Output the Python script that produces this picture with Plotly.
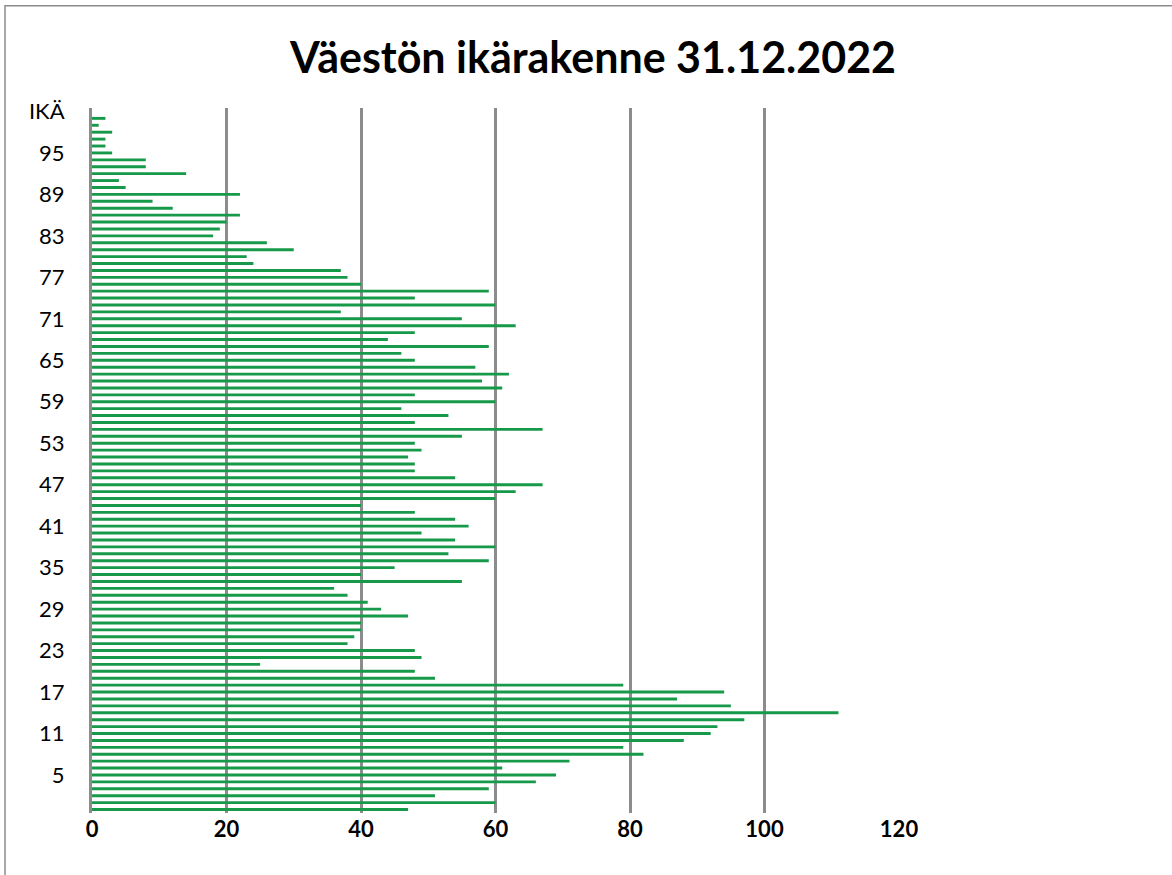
import plotly.graph_objects as go

# Ages from top (100) to bottom (0); "IKÄ" is the header category with no value
ages = [str(a) for a in range(100, -1, -1)]
categories = ["IKÄ"] + ages

population = [
    2, 1, 3, 2, 2, 3, 8, 8, 14, 4,          # 100..91
    5, 22, 9, 12, 22, 20, 19, 18, 26, 30,   # 90..81
    23, 24, 37, 38, 40, 59, 48, 60, 37, 55, # 80..71
    63, 48, 44, 59, 46, 48, 57, 62, 58, 61, # 70..61
    48, 60, 46, 53, 48, 67, 55, 48, 49, 47, # 60..51
    48, 48, 54, 67, 63, 60, 40, 48, 54, 56, # 50..41
    49, 54, 60, 53, 59, 45, 40, 55, 36, 38, # 40..31
    41, 43, 47, 40, 40, 39, 38, 48, 49, 25, # 30..21
    48, 51, 79, 94, 87, 95, 111, 97, 93, 92,# 20..11
    88, 79, 82, 71, 61, 69, 66, 59, 51, 60, # 10..1
    47,                                     # 0
]
values = [None] + population

y_tick_labels = ["IKÄ", "95", "89", "83", "77", "71", "65", "59", "53",
                 "47", "41", "35", "29", "23", "17", "11", "5"]
x_ticks = [0, 20, 40, 60, 80, 100, 120]

fig = go.Figure()
fig.add_trace(go.Bar(
    x=values, y=categories, orientation="h",
    marker=dict(color="#17994A", line=dict(width=0)),
    width=0.42,
    hoverinfo="x+y",
))

fig.update_layout(
    width=1172, height=875,
    margin=dict(l=92, r=273, t=108, b=62),
    paper_bgcolor="white", plot_bgcolor="white",
    showlegend=False,
    title=dict(text="<b>Väestön ikärakenne 31.12.2022</b>",
               x=0.506, xanchor="center", y=0.934, yanchor="middle",
               font=dict(family="Lato, Carlito, Open Sans, sans-serif", size=43, color="black")),
    font=dict(family="Lato, Carlito, Open Sans, sans-serif", color="black"),
)

fig.update_xaxes(
    range=[0, 120], tickvals=x_ticks, ticktext=[f"<b>{v}</b>" for v in x_ticks],
    showgrid=True, gridcolor="#8c8c8c", gridwidth=2.5,
    zeroline=False, showline=False, ticks="",
    tickfont=dict(size=22, color="black"), ticklabelstandoff=1,
)
fig.update_yaxes(
    type="category", categoryorder="array", categoryarray=categories,
    autorange="reversed",
    tickmode="array", tickvals=y_tick_labels, ticktext=y_tick_labels,
    showgrid=False, zeroline=False,
    showline=True, linecolor="#8c8c8c", linewidth=3,
    ticks="", tickfont=dict(size=22, color="black"), ticklabelstandoff=20,
)

fig.add_shape(type="rect", xref="paper", yref="paper",
              x0=-0.1078, x1=1.4, y0=-0.2, y1=1.145,
              line=dict(color="#8c8c8c", width=1.5), fillcolor="rgba(0,0,0,0)")

fig.write_html("out.html", config={"displayModeBar": False})

# remove the browser's default page margin so the figure sits at the top-left corner
with open("out.html", "r", encoding="utf-8") as f:
    html = f.read()
html = html.replace("<body>", '<body style="margin:0;">', 1)
with open("out.html", "w", encoding="utf-8") as f:
    f.write(html)
